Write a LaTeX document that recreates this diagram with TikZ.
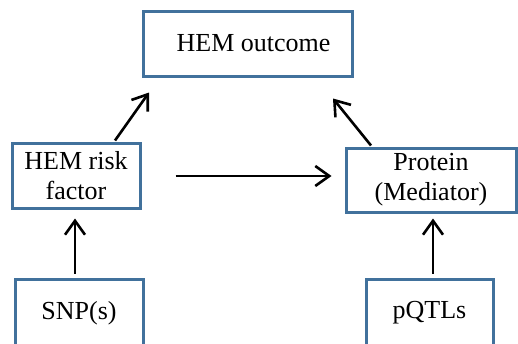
\documentclass[tikz,border=0pt]{standalone}
\usepackage{fontspec}
\setmainfont{Liberation Serif}
\usetikzlibrary{arrows.meta,calc}
\definecolor{boxblue}{HTML}{41719C}
\begin{document}
\begin{tikzpicture}[x=1pt,y=-1pt,
  box/.style={draw=boxblue,line width=3pt,fill=white,inner sep=0pt,align=center,
    font=\fontsize{26}{30}\selectfont},
  arr/.style={draw=black,line width=2.6pt,-{Straight Barb[length=14pt,width=20pt,line width=2.6pt]}}]
\clip (0,0) rectangle (518,343);
\useasboundingbox (0,0) rectangle (518,343);
\node[box,minimum width=209pt,minimum height=65pt] (out) at (247.5,43.5) {\hspace*{12pt}HEM outcome};
\node[box,minimum width=128pt,minimum height=65pt] (risk) at (76,175.5) {HEM risk\\factor};
\node[box,minimum width=170pt,minimum height=64pt] (prot) at (431,180) {Protein\\(Mediator)};
\node[box,minimum width=128pt,minimum height=68pt] (snp) at (79,313) {SNP(s)};
\node[box,minimum width=127pt,minimum height=68pt] (pq) at (429.5,313) {pQTLs};
\draw[arr] ($(snp.north)+(-4,-4)$) -- ($(risk.south)+(-1,9)$);
\draw[arr] ($(pq.north)+(3.5,-4)$) -- ($(prot.south)+(2,5)$);
\draw[arr] ($(risk.east)+(34,0.5)$) -- ($(prot.west)+(-13,-4)$);
\draw[arr] ($(risk.north)+(39,-1)$) -- ($(out.south)+(-98.5,15)$);
\draw[arr] ($(prot.north)+(-60,-1)$) -- ($(out.south)+(85.5,21)$);
\end{tikzpicture}
\end{document}
